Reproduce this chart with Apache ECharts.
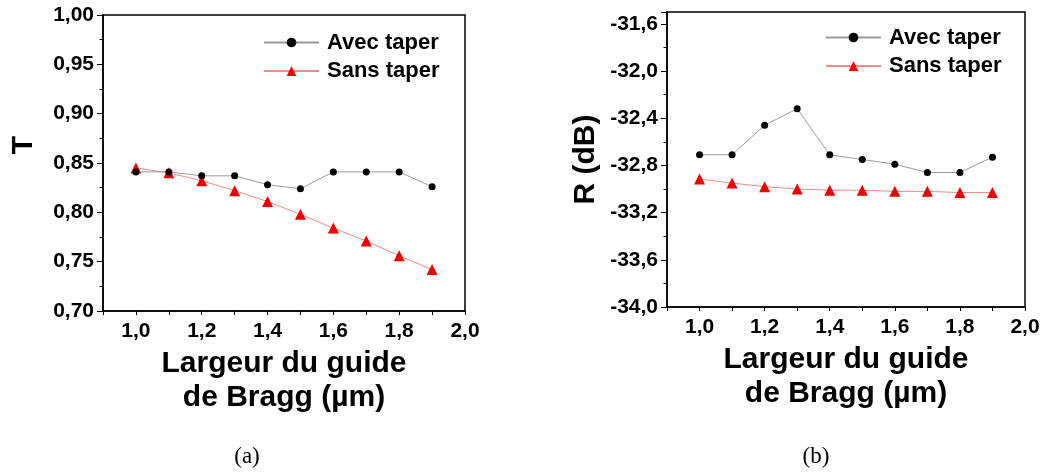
<!DOCTYPE html>
<html>
<head>
<meta charset="utf-8">
<title>Transmission et réflexion vs largeur du guide de Bragg</title>
<script src="https://cdn.jsdelivr.net/npm/echarts@6/dist/echarts.min.js"></script>
<style>
  html, body { margin: 0; padding: 0; background: #fff; }
  #chart { width: 1048px; height: 472px; }
</style>
</head>
<body>
<div id="chart"></div>
<script>
// Largeur du guide de Bragg (µm)
const widths = [1.0, 1.1, 1.2, 1.3, 1.4, 1.5, 1.6, 1.7, 1.8, 1.9];

// (a) Transmission T
const tAvec = [0.841, 0.841, 0.837, 0.837, 0.828, 0.824, 0.841, 0.841, 0.841, 0.826];
const tSans = [0.845, 0.840, 0.832, 0.822, 0.811, 0.798, 0.784, 0.771, 0.756, 0.742];

// (b) Réflexion R (dB)
const rAvec = [-32.71, -32.71, -32.46, -32.32, -32.71, -32.75, -32.79, -32.86, -32.86, -32.73];
const rSans = [-32.915, -32.95, -32.98, -33.00, -33.01, -33.01, -33.02, -33.02, -33.03, -33.03];

const seriesNames = ['Avec taper', 'Sans taper'];
const xTitle = 'Largeur du guide\nde Bragg (µm)';
const captions = ['(a)', '(b)'];

const FONT = '"Liberation Sans", Arial, sans-serif';
const SERIF = '23px "Liberation Serif", "DejaVu Serif", serif';
const pairs = (xs, ys) => xs.map((x, i) => [x, ys[i]]);
const comma = (v, d) => v.toFixed(d).replace('.', ',');

function xAxisFor(gridIndex) {
  return {
    type: 'value', gridIndex, min: 0.9, max: 2.0, interval: 0.1,
    axisLine: { lineStyle: { color: '#000', width: 1.5 } },
    axisTick: { inside: false, length: 4, lineStyle: { color: '#000', width: 1 } },
    splitLine: { show: false },
    axisLabel: {
      margin: 10, color: '#000', fontFamily: FONT, fontWeight: 'bold', fontSize: 21,
      formatter: v => (Math.round(v * 10) % 2 === 0 ? comma(v, 1) : '')
    },
    name: xTitle, nameLocation: 'middle', nameGap: 19,
    nameTextStyle: {
      color: '#000', fontFamily: FONT, fontWeight: 'bold', fontSize: 30,
      lineHeight: 34, verticalAlign: 'top'
    }
  };
}

function legendAt(left, top) {
  return {
    data: seriesNames, orient: 'vertical', left, top, padding: 0,
    itemWidth: 55, itemHeight: 12, itemGap: 4.6,
    textStyle: { color: '#000', fontFamily: FONT, fontWeight: 'bold', fontSize: 22, lineHeight: 24, padding: [0, 0, 0, 3] }
  };
}

function yAxisBase(gridIndex, min, max, interval, digits) {
  return {
    type: 'value', gridIndex, min, max, interval,
    axisLine: { show: true, lineStyle: { color: '#000', width: 1.5 } },
    axisTick: { show: true, length: 6, lineStyle: { color: '#000', width: 1 } },
    minorTick: { show: true, splitNumber: 2, length: 3.5, lineStyle: { color: '#000', width: 1 } },
    splitLine: { show: false },
    axisLabel: {
      margin: 9, color: '#000', fontFamily: FONT, fontWeight: 'bold', fontSize: 21,
      showMaxLabel: digits === 2, formatter: v => comma(v, digits)
    }
  };
}

const yT = Object.assign(yAxisBase(0, 0.70, 1.00, 0.05, 2), {
  name: 'T', nameLocation: 'middle', nameRotate: 90, nameGap: 64,
  nameTextStyle: { color: '#000', fontFamily: FONT, fontWeight: 'bold', fontSize: 30, padding: [0, 0, 0, 36] }
});
const yR = Object.assign(yAxisBase(1, -34.0, -31.5, 0.4, 1), {
  name: 'R (dB)', nameLocation: 'middle', nameRotate: 90, nameGap: 66,
  nameTextStyle: { color: '#000', fontFamily: FONT, fontWeight: 'bold', fontSize: 30 }
});

function lineSeries(nameIdx, axisIdx, values) {
  const avec = nameIdx === 0;
  return {
    name: seriesNames[nameIdx], type: 'line', xAxisIndex: axisIdx, yAxisIndex: axisIdx,
    data: pairs(widths, values),
    symbol: avec ? 'circle' : 'triangle', symbolSize: avec ? 7 : 11,
    itemStyle: { color: avec ? '#000' : '#ee0000' },
    lineStyle: { color: avec ? '#9a9a9a' : '#f08a8a', width: 1 },
    z: avec ? 3 : 2
  };
}

const option = {
  backgroundColor: '#fff',
  animation: false,
  grid: [
    { left: 103, top: 15, right: 583, bottom: 161, show: true, borderColor: '#000', borderWidth: 1.5 },
    { left: 667, top: 12, right: 23, bottom: 165, show: true, borderColor: '#000', borderWidth: 1.5 }
  ],
  legend: [legendAt(263, 30.5), legendAt(825, 25.5)],
  xAxis: [xAxisFor(0), xAxisFor(1)],
  yAxis: [yT, yR],
  series: [
    lineSeries(0, 0, tAvec),
    lineSeries(1, 0, tSans),
    lineSeries(0, 1, rAvec),
    lineSeries(1, 1, rSans)
  ],
  graphic: [
    {
      type: 'text', x: 247, y: 457,
      style: { text: captions[0], align: 'center', verticalAlign: 'middle', fill: '#000', font: SERIF }
    },
    {
      type: 'text', x: 816, y: 457,
      style: { text: captions[1], align: 'center', verticalAlign: 'middle', fill: '#000', font: SERIF }
    }
  ]
};

const chart = echarts.init(document.getElementById('chart'), null, { renderer: 'canvas' });
chart.setOption(option);
</script>
</body>
</html>
